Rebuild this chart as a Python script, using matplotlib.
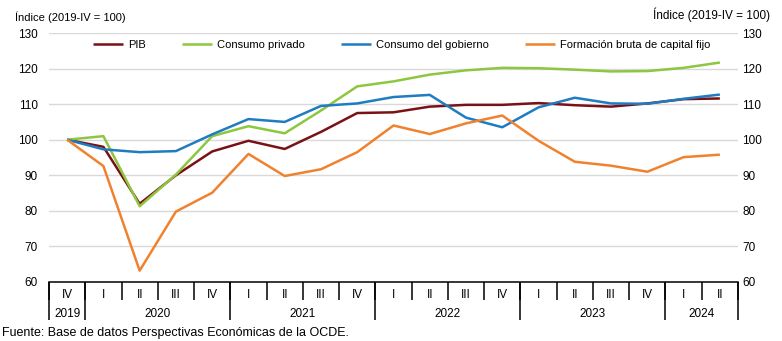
import matplotlib
matplotlib.use("Agg")
import matplotlib.pyplot as plt

plt.rcParams['font.family'] = ['Liberation Sans', 'DejaVu Sans']

quarters = ["IV", "I", "II", "III", "IV", "I", "II", "III", "IV", "I", "II", "III", "IV",
            "I", "II", "III", "IV", "I", "II"]
years = ["2019", "2020", "2021", "2022", "2023", "2024"]
year_counts = [1, 4, 4, 4, 4, 2]

pib = [100, 98.0, 82.0, 90.0, 96.7, 99.7, 97.4, 102.2, 107.5, 107.7, 109.3, 109.8, 109.8,
       110.3, 109.7, 109.3, 110.2, 111.4, 111.6]
consumo_privado = [100, 101.0, 81.3, 90.2, 101.0, 103.8, 101.8, 108.2, 115.0, 116.4, 118.3,
                   119.5, 120.2, 120.1, 119.7, 119.2, 119.3, 120.2, 121.7]
consumo_gobierno = [100, 97.3, 96.5, 96.8, 101.5, 105.8, 105.0, 109.5, 110.2, 112.0, 112.6,
                    106.2, 103.5, 109.1, 111.8, 110.2, 110.1, 111.5, 112.7]
fbcf = [100, 92.6, 63.2, 79.8, 85.1, 96.0, 89.8, 91.7, 96.5, 104.0, 101.6, 104.6, 106.8,
        99.7, 93.8, 92.7, 91.0, 95.1, 95.8]

series = [
    ("PIB", pib, "#7a1116"),
    ("Consumo privado", consumo_privado, "#8dc63f"),
    ("Consumo del gobierno", consumo_gobierno, "#1f7cc1"),
    ("Formación bruta de capital fijo", fbcf, "#f0822f"),
]

fig = plt.figure(figsize=(7.82, 3.41), dpi=100)
ax = fig.add_axes([49/782, 1-282/341, (738-49)/782, (282-33)/341])

x = list(range(len(quarters)))
for name, vals, col in series:
    ax.plot(x, vals, color=col, lw=1.8, label=name, solid_capstyle='butt', zorder=3)

ax.set_xlim(-0.5, len(quarters)-0.5)
ax.set_ylim(60, 130)
yt = list(range(60, 131, 10))
ax.set_yticks(yt)
ax.tick_params(axis='y', length=0, labelsize=8.5, pad=8, labelleft=True, labelright=False)
for v in yt[1:]:
    ax.axhline(v, color='#d9d9d9', lw=1.0, zorder=1)

for s in ['left', 'right', 'top']:
    ax.spines[s].set_visible(False)
ax.spines['bottom'].set_color('black')
ax.spines['bottom'].set_linewidth(1.1)

# right y labels
axr = ax.twinx()
axr.set_ylim(60, 130)
axr.set_yticks(yt)
axr.tick_params(axis='y', length=0, labelsize=8.5, pad=3)
for s in ['left', 'right', 'top', 'bottom']:
    axr.spines[s].set_visible(False)

# quarter labels and separators
ax.set_xticks(x)
ax.set_xticklabels(quarters)
ax.tick_params(axis='x', length=0, labelsize=8.5, pad=5)
ax.set_xticks([i - 0.5 for i in range(len(quarters)+1)], minor=True)
ax.tick_params(axis='x', which='minor', length=13, width=1.1, color='black', direction='out')

# year separators and labels
bounds = [-0.5]
for c in year_counts:
    bounds.append(bounds[-1] + c)
centers = [(bounds[i] + bounds[i+1]) / 2 for i in range(len(years))]
sec = ax.secondary_xaxis('bottom')
sec.set_xticks(bounds)
sec.set_xticklabels([''] * len(bounds))
sec.tick_params(axis='x', length=27, width=1.1, color='black')
sec.spines['bottom'].set_visible(False)
sec2 = ax.secondary_xaxis('bottom')
sec2.set_xticks(centers)
sec2.set_xticklabels(years)
sec2.tick_params(axis='x', length=0, labelsize=8.5, pad=19)
sec2.spines['bottom'].set_visible(False)

leg = ax.legend(loc='upper left', bbox_to_anchor=(0.054, 1.0), ncol=4, frameon=False,
                fontsize=8, handlelength=2.7, handletextpad=0.45, columnspacing=3.25,
                borderaxespad=0.3, borderpad=0.3)

fig.text(15/782, 1-17/341, "Índice (2019-IV = 100)", fontsize=8, ha='left', va='center')
fig.text(770/782, 1-15/341, "Índice (2019-IV = 100)", fontsize=8.5, ha='right', va='center')
fig.text(2/782, 1-333/341, "Fuente: Base de datos Perspectivas Económicas de la OCDE.",
         fontsize=9, ha='left', va='center')

fig.savefig("out.png", dpi=100)
